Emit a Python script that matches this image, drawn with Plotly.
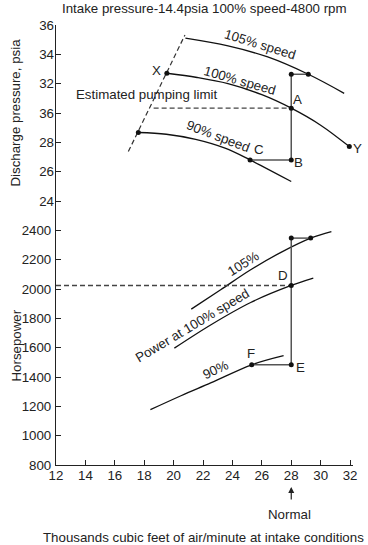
import plotly.graph_objects as go

# ---------------- data ----------------
# Discharge pressure curves (psia) vs flow (thousand cfm)
flow_105_p = [20.8, 23.7, 26.4, 29.16, 31.6]
press_105 = [35.1, 34.57, 33.82, 32.64, 31.34]

flow_100_p = [19.54, 21.6, 23.7, 26.0, 28.0, 30.0, 31.95]
press_100 = [32.71, 32.42, 32.0, 31.25, 30.33, 29.17, 27.71]

flow_90_p = [17.6, 19.5, 21.5, 23.5, 25.2, 28.0]
press_90 = [28.67, 28.55, 28.2, 27.6, 26.8, 25.33]

pump_flow = [16.92, 20.77]
pump_press = [27.37, 35.32]

# horsepower curves
flow_105_hp = [21.2, 23.2, 25.24, 27.3, 29.32, 30.73]
hp_105 = [1863, 1995, 2131, 2250, 2347, 2392]

flow_100_hp = [20.05, 22.6, 25.24, 28.0, 29.5]
hp_100 = [1597, 1760, 1908, 2024, 2074]

flow_90_hp = [18.42, 20.5, 22.56, 25.31, 27.48]
hp_90 = [1177, 1272, 1361, 1483, 1545]

# operating points
normal_flow = 28.0
p_top, p_A, p_B = 32.64, 30.33, 26.8
flow_105_pt, flow_C = 29.16, 25.2
flow_X, p_X = 19.54, 32.71
flow_Y, p_Y = 31.95, 27.71
flow_pl_start = 18.64
hp_top, hp_D, hp_E = 2347, 2024, 1483
flow_105_hp_pt, flow_F = 29.32, 25.31

x_ticks = list(range(12, 33, 2))
hp_ticks = list(range(800, 2401, 200))
p_ticks = [24, 26, 28, 30, 32, 34, 36]
p_ticktext = ["24", "26", "28", "36", "32", "34", "36"]

# ---------------- figure ----------------
FONT = "Liberation Sans, Arial, Helvetica, sans-serif"
FS = 13.3
BLK = "#111111"
GRY = "#555555"
fig = go.Figure()

def curve(x, y, axis, color=BLK, width=1.3, dash=None, shape="spline"):
    fig.add_trace(go.Scatter(x=x, y=y, yaxis=axis, mode="lines",
                             line=dict(color=color, width=width, dash=dash,
                                       shape=shape, smoothing=1.0),
                             hoverinfo="skip", showlegend=False))

def dots(x, y, axis):
    fig.add_trace(go.Scatter(x=x, y=y, yaxis=axis, mode="markers",
                             marker=dict(color=BLK, size=5),
                             hoverinfo="skip", showlegend=False))

# pressure section (y2)
curve(flow_105_p, press_105, "y2")
curve(flow_100_p, press_100, "y2")
curve(flow_90_p, press_90, "y2")
curve(pump_flow, pump_press, "y2", color="#333", width=1.2, dash="5px,3px", shape="linear")
curve([flow_pl_start, normal_flow], [p_A, p_A], "y2", color="#444", width=1.3, dash="5px,3px", shape="linear")
curve([normal_flow, normal_flow], [p_top, p_B], "y2", color=GRY, width=1.5, shape="linear")
curve([normal_flow, flow_105_pt], [p_top, p_top], "y2", color=GRY, width=1.5, shape="linear")
curve([flow_C, normal_flow], [p_B, p_B], "y2", color=GRY, width=1.5, shape="linear")
dots([flow_X, normal_flow, flow_Y, flow_105_pt, normal_flow, normal_flow, flow_C, flow_90_p[0]],
     [p_X, p_A, p_Y, p_top, p_top, p_B, p_B, press_90[0]], "y2")

# horsepower section (y)
curve(flow_105_hp, hp_105, "y")
curve(flow_100_hp, hp_100, "y")
curve(flow_90_hp, hp_90, "y")
curve([12, normal_flow], [hp_D, hp_D], "y", color="#444", width=1.3, dash="5px,3px", shape="linear")
curve([normal_flow, normal_flow], [hp_top, hp_E], "y", color=GRY, width=1.5, shape="linear")
curve([normal_flow, flow_105_hp_pt], [hp_top, hp_top], "y", color=GRY, width=1.5, shape="linear")
curve([flow_F, normal_flow], [hp_E, hp_E], "y", color=GRY, width=1.5, shape="linear")
dots([normal_flow, flow_105_hp_pt, normal_flow, normal_flow, flow_F],
     [hp_top, hp_top, hp_D, hp_E, hp_E], "y")

# ---------------- annotations ----------------
L, R, T, B = 56, 357, 25, 465

def P(px, py):
    return dict(x=(px - L) / (R - L), y=(B - py) / (B - T), xref="paper", yref="paper")

def txt(s, px, py, angle=0, size=FS, xanchor="center"):
    fig.add_annotation(text=s, showarrow=False, textangle=angle,
                       font=dict(family=FONT, size=size, color="#222"),
                       xanchor=xanchor, yanchor="middle", **P(px, py))

txt("Intake pressure-14.4psia 100% speed-4800 rpm", 207, 9)
txt("Discharge pressure, psia", 15, 113, angle=-90)
txt("Horsepower", 15, 346, angle=-90)
txt("Thousands cubic feet of air/minute at intake conditions", 205, 537)
txt("Normal", 293, 514)
txt("Estimated pumping limit", 148, 95)
txt("105% speed", 263, 45, angle=17)
txt("100% speed", 242, 80, angle=16)
txt("90% speed", 221, 136, angle=21)
txt("C", 262, 149)
txt("X", 158, 71)
txt("A", 301, 100)
txt("Y", 362, 148)
txt("B", 302, 162)
txt("105%", 246, 263, angle=-32)
txt("D", 286, 275)
txt("Power at 100% speed", 194, 325, angle=-31)
txt("90%", 218, 369, angle=-25)
txt("F", 254, 353)
txt("E", 304, 367)

# arrow pointing at "Normal" flow
fig.add_annotation(x=normal_flow, xref="x", y=(B - 487) / (B - T), yref="paper",
                   text="", showarrow=True, ax=0, ay=14, arrowhead=2,
                   arrowsize=1, arrowwidth=1.2, arrowcolor="#222")

axis_common = dict(showgrid=False, zeroline=False, ticks="inside", ticklen=5,
                   tickwidth=1, tickcolor="#222",
                   tickfont=dict(family=FONT, size=FS, color="#222"))

fig.update_layout(
    width=368, height=545,
    margin=dict(l=L, r=368 - R, t=T, b=545 - B),
    paper_bgcolor="white", plot_bgcolor="white",
    showlegend=False,
    xaxis=dict(range=[12, 32.2], tickvals=x_ticks, showline=True,
               linecolor="#222", linewidth=1.2, ticklabelstandoff=-2,
               **axis_common),
    yaxis=dict(range=[800, 3800], tickvals=hp_ticks, showline=True,
               linecolor="#222", linewidth=1.2, ticklabelstandoff=1,
               **axis_common),
    yaxis2=dict(range=[6, 36], tickvals=p_ticks, ticktext=p_ticktext,
                overlaying="y", side="left", anchor="x", showline=False,
                ticklabelstandoff=1, **axis_common),
)

fig.write_html("out.html", config={"displayModeBar": False},
               post_script="document.body.style.margin='0';")
